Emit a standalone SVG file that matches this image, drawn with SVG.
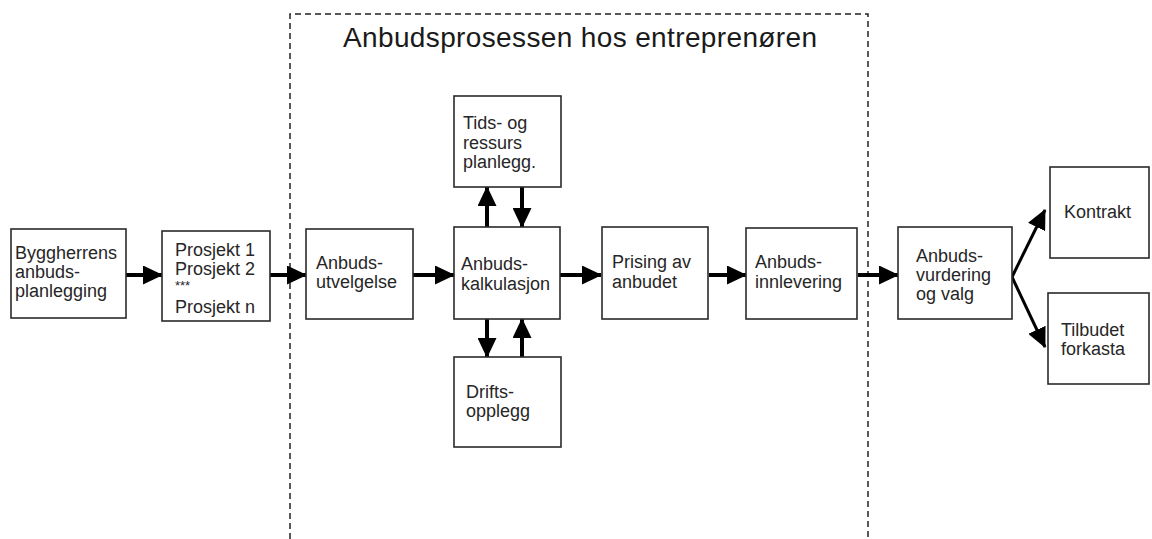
<svg xmlns="http://www.w3.org/2000/svg" width="1152" height="539" viewBox="0 0 1152 539">
<defs>
<style>
.box{fill:#fff;stroke:#2a2a2a;stroke-width:1.6}
.t{font-family:"Liberation Sans",Arial,sans-serif;font-size:18px;fill:#262626}
.title{font-family:"Liberation Sans",Arial,sans-serif;font-size:28px;fill:#1a1a1a}
.con{stroke:#000;stroke-width:4;fill:none;marker-end:url(#ah)}
.diag{stroke:#000;stroke-width:3;fill:none;marker-end:url(#ah)}
.frame{fill:none;stroke:#222;stroke-width:1.5;stroke-dasharray:6 4}
</style>
<marker id="ah" viewBox="0 0 20 19" refX="19" refY="9.5" markerWidth="20" markerHeight="19" markerUnits="userSpaceOnUse" orient="auto">
<path d="M0,0 L20,9.5 L0,19 z" fill="#000"/>
</marker>
</defs>
<rect width="1152" height="539" fill="#fff"/>

<g id="frame">
<path class="frame" d="M290,539 L290,14 L868,14 L868,539"/>
<text class="title" x="343" y="47" textLength="474">Anbudsprosessen hos entreprenøren</text>
</g>

<g id="connectors">
<line class="con" x1="126" y1="275" x2="162" y2="275"/>
<line class="con" x1="270" y1="275" x2="306" y2="275"/>
<line class="con" x1="413" y1="275" x2="454" y2="275"/>
<line class="con" x1="560" y1="275" x2="601" y2="275"/>
<line class="con" x1="709" y1="275" x2="746" y2="275"/>
<line class="con" x1="858" y1="275" x2="898" y2="275"/>
<line class="con" x1="487" y1="227" x2="487" y2="187"/>
<line class="con" x1="522" y1="187" x2="522" y2="227"/>
<line class="con" x1="487" y1="319" x2="487" y2="357"/>
<line class="con" x1="522" y1="357" x2="522" y2="319"/>
<line class="diag" x1="1012" y1="277" x2="1045" y2="210"/>
<line class="diag" x1="1012" y1="277" x2="1045" y2="347"/>
</g>

<g id="byggherrens">
<rect class="box" x="11" y="229" width="115" height="89"/>
<text class="t" x="15" y="259">Byggherrens</text>
<text class="t" x="15" y="278">anbuds-</text>
<text class="t" x="15" y="297">planlegging</text>
</g>

<g id="prosjekt">
<rect class="box" x="162" y="231" width="108" height="90"/>
<text class="t" x="175" y="256">Prosjekt 1</text>
<text class="t" x="175" y="275">Prosjekt 2</text>
<text class="t" x="175" y="290" style="font-size:13px">***</text>
<text class="t" x="175" y="313">Prosjekt n</text>
</g>

<g id="utvelgelse">
<rect class="box" x="306" y="229" width="107" height="90"/>
<text class="t" x="316" y="269">Anbuds-</text>
<text class="t" x="316" y="288">utvelgelse</text>
</g>

<g id="kalkulasjon">
<rect class="box" x="454" y="227" width="106" height="92"/>
<text class="t" x="461" y="270">Anbuds-</text>
<text class="t" x="461" y="290">kalkulasjon</text>
</g>

<g id="tidsplan">
<rect class="box" x="454" y="96" width="107" height="91"/>
<text class="t" x="463" y="129">Tids- og</text>
<text class="t" x="463" y="149">ressurs</text>
<text class="t" x="463" y="168">planlegg.</text>
</g>

<g id="drifts">
<rect class="box" x="454" y="357" width="107" height="90"/>
<text class="t" x="466" y="398">Drifts-</text>
<text class="t" x="466" y="417">opplegg</text>
</g>

<g id="prising">
<rect class="box" x="602" y="227" width="106" height="92"/>
<text class="t" x="612" y="268">Prising av</text>
<text class="t" x="612" y="288">anbudet</text>
</g>

<g id="innlevering">
<rect class="box" x="746" y="228" width="111" height="91"/>
<text class="t" x="755" y="268">Anbuds-</text>
<text class="t" x="755" y="288">innlevering</text>
</g>

<g id="vurdering">
<rect class="box" x="898" y="227" width="114" height="92"/>
<text class="t" x="916" y="262">Anbuds-</text>
<text class="t" x="916" y="281">vurdering</text>
<text class="t" x="916" y="300">og valg</text>
</g>

<g id="kontrakt">
<rect class="box" x="1050" y="167" width="99" height="91"/>
<text class="t" x="1064" y="218">Kontrakt</text>
</g>

<g id="forkasta">
<rect class="box" x="1048" y="293" width="101" height="91"/>
<text class="t" x="1061" y="336">Tilbudet</text>
<text class="t" x="1061" y="355">forkasta</text>
</g>
</svg>
